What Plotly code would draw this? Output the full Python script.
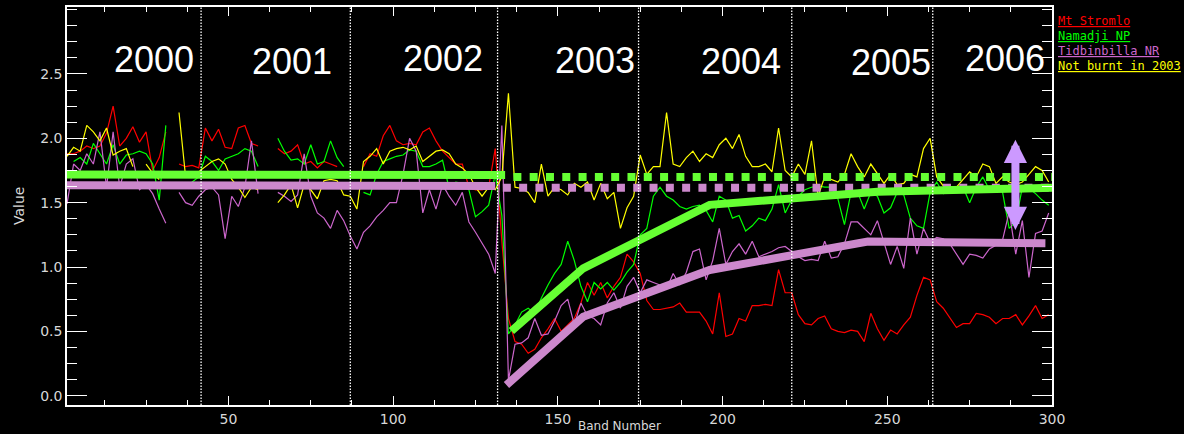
import plotly.graph_objects as go

# ---------------- data ----------------
bands = list(range(1, 300, 2))

mt_stromlo = [
    1.88, 1.88, 1.90, 1.94, 1.92, 1.94, 2.04, 2.25, 1.94, 2.00, 2.09, 1.97, 2.05, 1.75, 1.85, 2.05, None, 1.80, 1.78, 1.79, 1.77, 2.08, 1.98, 2.07, 1.93,
    1.92, 2.08, 2.10, 1.96, 1.94, None, None, 1.92, 1.88, 1.90, 1.95, 1.80, 1.82, 1.77, 1.82, 1.80, 1.78, None, None, None, 1.78, 1.88, 1.86, 2.02, 2.10,
    1.98, 1.95, 1.96, 1.95, 2.05, 2.08, 1.98, 1.90, 1.85, 1.80, 1.80, 1.62, 1.60, 1.60, 1.62, 1.92, 1.20, 0.60, 0.42, 0.40, 0.33, 0.36, 0.45, 0.52, 0.60,
    0.50, 0.55, 0.60, 0.72, 0.88, 0.78, 0.88, 0.76, 0.85, 0.92, 1.10, 1.04, 0.95, 0.74, 0.67, 0.67, 0.68, 0.69, 0.72, 0.65, 0.65, 0.65, 0.58, 0.48, 0.80,
    0.46, 0.48, 0.60, 0.58, 0.70, 0.70, 0.71, 0.70, 0.98, 0.80, 0.80, 0.63, 0.56, 0.55, 0.60, 0.62, 0.52, 0.50, 0.49, 0.51, 0.50, 0.42, 0.64, 0.52, 0.43,
    0.51, 0.48, 0.55, 0.61, 0.78, 0.92, 0.90, 0.73, 0.68, 0.60, 0.53, 0.56, 0.56, 0.64, 0.63, 0.61, 0.56, 0.60, 0.60, 0.63, 0.55, 0.62, 0.70, 0.60, 0.63,
]

namadji = [
    None, 1.82, 1.85, 1.80, 1.96, 1.88, 1.80, 1.95, 1.80, 1.87, 1.88, 1.90, 1.88, 1.80, 1.52, 2.10, None, None, 1.63, 1.66, 1.70, 1.86, 1.82, 1.75, 1.84,
    1.86, 1.88, 1.92, 1.90, 1.78, None, None, 2.00, 1.90, 1.83, 1.84, 1.80, 1.95, 1.80, 1.82, 1.98, 1.85, 1.78, None, None, 1.58, 1.56, 1.72, 1.82, 1.84,
    1.86, 1.87, 1.91, 1.90, 1.78, 1.78, 1.80, 1.83, 1.61, 1.66, 1.65, 1.60, 1.39, 1.43, 1.48, 1.72, 1.40, 0.48, 0.55, 0.65, 0.68, 0.64, 0.76, 0.86, 0.95,
    1.02, 1.20, 1.05, 0.85, 0.73, 0.88, 0.83, 0.88, 0.82, 0.88, 0.96, 1.02, 1.25, 1.30, 1.55, 1.62, 1.55, 1.52, 1.47, 1.45, 1.47, 1.48, 1.44, 1.35, 1.55,
    1.52, 1.38, 1.40, 1.28, 1.32, 1.38, 1.36, 1.45, 1.64, 1.42, 1.52, 1.55, 1.60, 1.62, 1.63, 1.62, 1.62, 1.53, 1.33, 1.58, 1.58, 1.45, 1.58, 1.55, 1.42,
    1.46, 1.58, 1.56, 1.38, 1.32, 1.30, 1.58, 1.66, 1.57, 1.60, 1.62, 1.62, 1.50, 1.62, 1.70, 1.60, 1.62, 1.58, 1.30, 1.35, 1.62, 1.61, 1.57, 1.52, 1.48,
]

tidbinbilla = [
    1.49, 1.80, 1.75, 1.88, 1.80, 2.05, 1.62, 2.05, 1.62, 1.80, 1.84, 1.60, 1.64, 1.57, 1.45, 1.34, None, 1.58, 1.50, 1.48, 1.55, 1.60, 1.62, 1.56, 1.22,
    1.55, 1.47, 1.62, 1.98, 1.57, None, None, 1.58, 1.55, 1.51, 1.56, 1.88, 1.55, 1.42, 1.38, 1.30, 1.44, 1.36, 1.24, 1.14, 1.27, 1.32, 1.39, 1.44, 1.50,
    1.50, 1.72, 2.00, 1.90, 1.42, 1.60, 1.45, 1.64, 1.55, 1.48, 1.58, 1.35, 1.27, 1.18, 1.10, 0.95, 2.10, 0.12, 0.40, 0.41, 0.45, 0.60, 0.47, 0.48, 0.58,
    0.70, 0.75, 0.55, 0.72, 0.62, 0.60, 0.55, 0.72, 0.80, 0.68, 0.85, 0.92, 0.80, 0.90, 0.88, 0.86, 0.83, 0.95, 0.86, 0.96, 1.12, 1.14, 0.90, 1.05, 1.30,
    1.02, 1.12, 1.18, 1.10, 1.20, 1.08, 1.10, 1.12, 1.15, 1.16, 1.12, 1.08, 1.05, 1.06, 1.05, 1.20, 1.07, 1.08, 1.18, 1.35, 1.35, 1.30, 1.25, 1.36, 1.18,
    1.02, 1.16, 0.99, 1.38, 1.10, 1.30, 1.19, 1.23, 1.22, 1.18, 1.10, 1.02, 1.10, 1.09, 1.07, 1.14, 1.17, 1.21, 1.43, 1.10, 1.36, 0.92, 1.26, 1.28, 1.42,
]

not_burnt = [
    1.86, 1.93, 1.90, 2.10, 2.05, 1.98, 2.08, 1.87, 1.90, 1.92, 1.78, None, 1.80, 1.73, 1.68, None, None, 2.20, 1.70, 1.72, 1.74, 1.78, 1.82, 1.84, 1.80,
    1.68, 1.62, 1.54, 1.62, 1.60, None, None, 1.50, 1.56, 1.64, 1.46, 1.64, 1.60, 1.53, 1.67, 1.68, 1.67, 1.56, 1.55, 1.45, 1.82, 1.86, 1.92, 1.80, 1.90,
    1.92, 1.93, 1.91, 1.94, 1.82, 1.86, 1.90, 1.91, 1.88, 1.80, 1.77, 1.72, 1.62, 1.55, 1.62, 1.60, 1.70, 2.35, 1.62, 1.61, 1.58, 1.50, 1.80, 1.55, 1.62,
    1.60, 1.56, 1.65, 1.62, 1.66, 1.52, 1.65, 1.53, 1.58, 1.30, 1.46, 1.55, 1.87, 1.72, 1.78, 1.78, 2.20, 1.80, 1.78, 1.85, 1.90, 1.82, 1.88, 1.85, 1.95,
    2.00, 1.92, 2.03, 1.86, 1.78, 1.78, 1.80, 1.74, 2.08, 1.75, 1.70, 1.80, 1.72, 1.98, 1.55, 1.70, 1.68, 1.66, 1.72, 1.88, 1.78, 1.70, 1.80, 1.72, 1.65,
    1.72, 1.64, 1.65, 1.72, 1.70, 1.92, 2.00, 1.70, 1.63, 1.62, 1.62, 1.68, 1.74, 1.70, 1.80, 1.78, 1.65, 1.70, 1.66, 1.64, 1.66, 1.72, 1.78, 1.75, 1.66,
]

# pre-fire mean levels (solid) and their continuation (dotted)
green_mean_pre_x = [1, 134]
green_mean_pre_y = [1.718, 1.715]
green_mean_post_x = [136.5, 300]
green_mean_post_y = [1.700, 1.700]
pink_mean_pre_x = [1, 131]
pink_mean_pre_y = [1.635, 1.630]
pink_mean_post_x = [133.3, 300]
pink_mean_post_y = [1.615, 1.615]

# recovery trend lines
green_trend_x = [135.9, 157.7, 196.1, 247, 300]
green_trend_y = [0.503, 0.99, 1.483, 1.585, 1.615]
pink_trend_x = [134.4, 157.7, 196.1, 244.1, 298]
pink_trend_y = [0.083, 0.614, 0.977, 1.198, 1.185]

year_bounds = [41.7, 87.0, 131.7, 174.5, 221.0, 263.8]
year_labels = ["2000", "2001", "2002", "2003", "2004", "2005", "2006"]
year_label_x = [27.4, 69.3, 115.1, 161.2, 205.5, 251.0, 285.6]
year_label_y = [2.609, 2.597, 2.621, 2.601, 2.593, 2.585, 2.617]

arrow_band = 288.9
arrow_top = 1.988
arrow_bottom = 1.276

series_names = ["Mt Stromlo", "Namadji NP", "Tidbinbilla NR", "Not burnt in 2003"]
series_colors = ["#FF0000", "#00FF00", "#CC66CC", "#FFFF00"]

# ---------------- figure ----------------
fig = go.Figure()

for name, vals, col in zip(series_names, [mt_stromlo, namadji, tidbinbilla, not_burnt], series_colors):
    fig.add_trace(go.Scatter(x=bands, y=vals, mode="lines", name=name,
                             line=dict(color=col, width=1.2), connectgaps=False,
                             showlegend=False, hoverinfo="skip"))

THICK_G = "#66FF33"
THICK_P = "#CC88CC"

fig.add_trace(go.Scatter(x=green_mean_pre_x, y=green_mean_pre_y, mode="lines",
                         line=dict(color=THICK_G, width=8), showlegend=False))
fig.add_trace(go.Scatter(x=pink_mean_pre_x, y=pink_mean_pre_y, mode="lines",
                         line=dict(color=THICK_P, width=8), showlegend=False))
fig.add_trace(go.Scatter(x=green_mean_post_x, y=green_mean_post_y, mode="lines",
                         line=dict(color=THICK_G, width=8, dash="8px,8.3px"), showlegend=False))
fig.add_trace(go.Scatter(x=pink_mean_post_x, y=pink_mean_post_y, mode="lines",
                         line=dict(color=THICK_P, width=8, dash="8px,8.3px"), showlegend=False))
fig.add_trace(go.Scatter(x=green_trend_x, y=green_trend_y, mode="lines",
                         line=dict(color=THICK_G, width=8), showlegend=False))
fig.add_trace(go.Scatter(x=pink_trend_x, y=pink_trend_y, mode="lines",
                         line=dict(color=THICK_P, width=8), showlegend=False))

for xb in year_bounds:
    fig.add_shape(type="line", xref="x", yref="paper", x0=xb, x1=xb, y0=0, y1=1,
                  line=dict(color="white", width=1.3, dash="1.5px,1.5px"), layer="above")

annotations = []
for lab, lx, ly in zip(year_labels, year_label_x, year_label_y):
    annotations.append(dict(x=lx, y=ly, xref="x", yref="y", text=lab, showarrow=False,
                            font=dict(family="Liberation Sans, Arial, sans-serif", size=36, color="white"),
                            xanchor="center", yanchor="middle"))

# legend as underlined text
leg_y = [0.965, 0.927, 0.889, 0.851]
for name, col, ly in zip(series_names, series_colors, leg_y):
    annotations.append(dict(x=1.004, y=ly, xref="paper", yref="paper", text="<u>" + name + "</u>",
                            showarrow=False, xanchor="left", yanchor="middle",
                            font=dict(family="DejaVu Sans Mono, monospace", size=12, color=col)))

# double arrow
annotations.append(dict(x=arrow_band, y=arrow_top, ax=arrow_band, ay=arrow_bottom,
                        xref="x", yref="y", axref="x", ayref="y", text="", showarrow=True,
                        arrowhead=2, startarrowhead=2, arrowside="end+start",
                        arrowwidth=8, arrowsize=0.58, startarrowsize=0.58,
                        arrowcolor="#CC99FF", standoff=0, startstandoff=0))

# axis titles
annotations.append(dict(x=0.5178, y=0, xref="paper", yref="paper", text="Band Number", showarrow=False,
                        xanchor="left", yanchor="bottom", yshift=-29, borderpad=0,
                        font=dict(family="DejaVu Sans, sans-serif", size=12, color="#D8D8D8")))
annotations.append(dict(x=0, y=0.5, xref="paper", yref="paper", text="Value", showarrow=False,
                        xanchor="center", yanchor="middle", xshift=-48, textangle=-90,
                        font=dict(family="DejaVu Sans, sans-serif", size=14, color="#D8D8D8")))

axis_common = dict(showgrid=False, zeroline=False, showline=True, linecolor="white", linewidth=1.5,
                   mirror="ticks", ticks="inside", tickcolor="white", tickwidth=1.2, automargin=False,
                   tickfont=dict(family="DejaVu Sans, sans-serif", size=14, color="#D8D8D8"))

fig.update_layout(
    width=1184, height=434,
    margin=dict(l=67, r=132, t=7, b=29, autoexpand=False),
    paper_bgcolor="black", plot_bgcolor="black",
    showlegend=False,
    annotations=annotations,
    xaxis=dict(range=[1, 300], tickvals=[50, 100, 150, 200, 250, 300], ticklen=9,
               minor=dict(dtick=12.5, tick0=0, ticklen=5, ticks="inside", tickcolor="white", tickwidth=1.2),
               **axis_common),
    yaxis=dict(range=[-0.072, 3.02], tickvals=[0, 0.5, 1.0, 1.5, 2.0, 2.5],
               ticktext=["0.0", "0.5", "1.0", "1.5", "2.0", "2.5"], ticklen=20,
               minor=dict(dtick=0.125, tick0=0, ticklen=10, ticks="inside", tickcolor="white", tickwidth=1.2),
               **axis_common),
)

fig.write_html("out.html", config={"displayModeBar": False},
               post_script="document.body.style.margin='0';document.body.style.background='black';")
